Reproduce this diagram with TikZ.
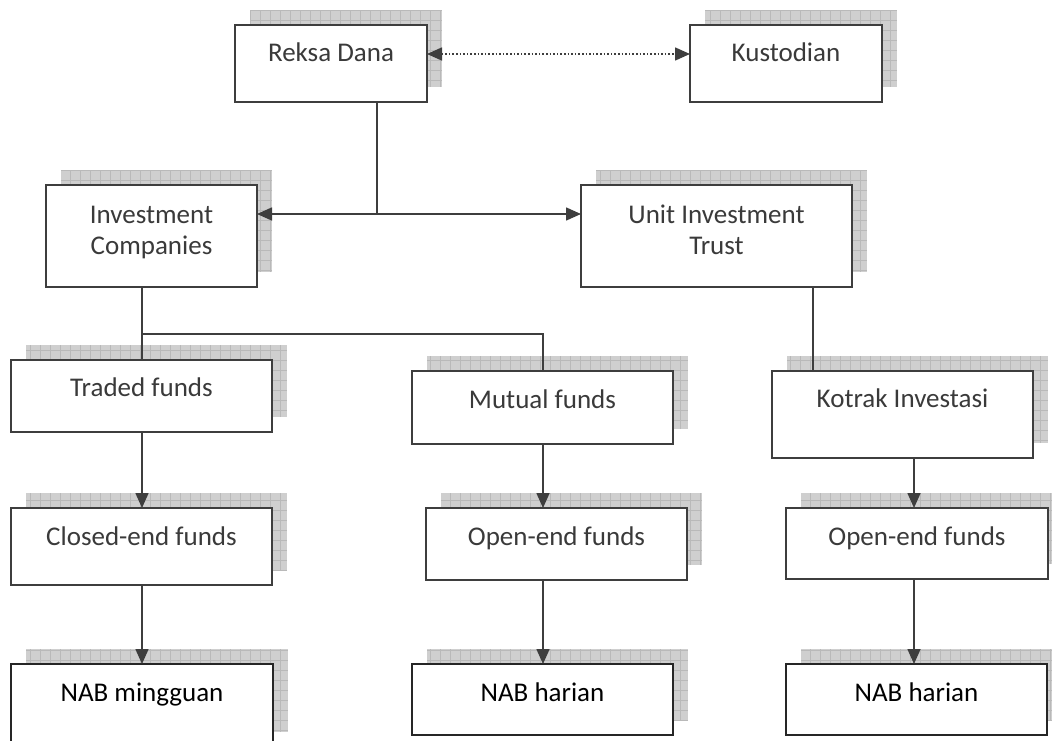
\documentclass[tikz,border=0pt]{standalone}
\usepackage{fontspec}
\setmainfont{Carlito}
\usetikzlibrary{arrows.meta,backgrounds}

\definecolor{inkgray}{HTML}{3A3A3A}
\definecolor{linegray}{HTML}{3E3E3E}
\definecolor{shadefill}{HTML}{CFCFCF}
\definecolor{shadegrid}{HTML}{B9B9B9}

\tikzset{
  fundbox/.style={rectangle, draw=linegray, line width=1.6pt, fill=white,
                  inner sep=0pt, outer sep=0pt},
  navbox/.style={fundbox, draw=black!85},
  boxtext/.style={font=\fontsize{27}{31}\selectfont, text=inkgray,
                  inner sep=0pt, anchor=base},
  navtext/.style={boxtext, text=black},
  link/.style={draw=linegray, line width=1.6pt},
  arrowlink/.style={link, -{Triangle[length=15pt,width=13pt]}},
  dotlink/.style={link, dotted,
    {Triangle[length=15pt,width=13pt]}-{Triangle[length=15pt,width=13pt]}},
}

% gridded drop shadow, offset up and to the right of a box node
\newcommand\gridshadow[1]{%
  \begin{scope}
    \clip ([shift={(15pt,15pt)}]#1.south west) rectangle ([shift={(15pt,15pt)}]#1.north east);
    \fill[shadefill] ([shift={(15pt,15pt)}]#1.south west) rectangle ([shift={(15pt,15pt)}]#1.north east);
    \draw[shadegrid, line width=0.6pt, step=10pt]
      ([shift={(15pt,15pt)}]#1.south west) grid ([shift={(15pt,15pt)}]#1.north east);
  \end{scope}}

\begin{document}
\begin{tikzpicture}[x=1pt, y=-1pt]
  \useasboundingbox (0,0) rectangle (1052,741);
  \clip (0,0) rectangle (1052,741);

  % boxes
  \node[fundbox, minimum width=192pt, minimum height=77pt]  (rd)  at (331,63.5)   {};
  \node[fundbox, minimum width=192pt, minimum height=77pt]  (ku)  at (786,63.5)   {};
  \node[fundbox, minimum width=211pt, minimum height=102pt] (ic)  at (151.5,236)  {};
  \node[fundbox, minimum width=271pt, minimum height=102pt] (uit) at (716.5,236)  {};
  \node[fundbox, minimum width=261pt, minimum height=72pt]  (tf)  at (141.5,396)  {};
  \node[fundbox, minimum width=261pt, minimum height=73pt]  (mf)  at (542.5,407.5){};
  \node[fundbox, minimum width=261pt, minimum height=87pt]  (ko)  at (902.5,414.5){};
  \node[fundbox, minimum width=261pt, minimum height=77pt]  (ce)  at (141.5,546.5){};
  \node[fundbox, minimum width=261pt, minimum height=72pt]  (oea) at (556.5,544)  {};
  \node[fundbox, minimum width=262pt, minimum height=71pt]  (oeb) at (917,543.5)  {};
  \node[navbox,  minimum width=262pt, minimum height=83pt]  (nm)  at (142,705.5)  {};
  \node[navbox,  minimum width=261pt, minimum height=71pt]  (nha) at (542.5,699.5){};
  \node[navbox,  minimum width=261pt, minimum height=71pt]  (nhb) at (916.5,699.5){};

  % labels
  \node[boxtext] (rdt)  at (331,62)    {Reksa Dana};
  \node[boxtext] (kut)  at (786,62)    {Kustodian};
  \node[boxtext] (ict1) at (151.5,223) {Investment};
  \node[boxtext] (ict2) at (151.5,254) {Companies};
  \node[boxtext] (uit1) at (716.5,223) {Unit Investment};
  \node[boxtext] (uit2) at (716.5,254) {Trust};
  \node[boxtext] (tft)  at (141.5,396) {Traded funds};
  \node[boxtext] (mft)  at (542.5,408) {Mutual funds};
  \node[boxtext] (kot)  at (902.5,407) {Kotrak Investasi};
  \node[boxtext] (cet)  at (141.5,545) {Closed-end funds};
  \node[boxtext] (oeat) at (556.5,545) {Open-end funds};
  \node[boxtext] (oebt) at (917,545)   {Open-end funds};
  \node[navtext] (nmt)  at (142,701)   {NAB mingguan};
  \node[navtext] (nhat) at (542.5,701) {NAB harian};
  \node[navtext] (nhbt) at (916.5,701) {NAB harian};

  % shadows behind the boxes
  \begin{scope}[on background layer]
    \foreach \b in {rd,ku,ic,uit,tf,mf,ko,ce,oea,oeb,nm,nha,nhb} {\gridshadow{\b}}
  \end{scope}

  % junction points and columns of the connectors
  \coordinate (split)   at (377,214);
  \coordinate (icfork)  at (142,334);
  \coordinate (uitdrop) at (813,300);
  \coordinate (lcol)    at (142,600);
  \coordinate (mcol)    at (543,600);
  \coordinate (rcol)    at (914,600);

  % connectors
  \draw[dotlink] ([yshift=9.5pt]rd.east) -- ([yshift=9.5pt]ku.west);
  \draw[link] (rd.south -| split) -- (split);
  \draw[arrowlink] (split) -- (ic.east |- split);
  \draw[arrowlink] (split) -- (uit.west |- split);
  \draw[link] (ic.south -| icfork) -- (icfork) -- (tf.north -| icfork);
  \draw[link] (icfork) -| (mf.north -| mcol);
  \draw[link] (uit.south -| uitdrop) -- (ko.north -| uitdrop);
  \draw[arrowlink] (tf.south -| lcol) -- (ce.north -| lcol);
  \draw[arrowlink] (mf.south -| mcol) -- (oea.north -| mcol);
  \draw[arrowlink] (ko.south -| rcol) -- (oeb.north -| rcol);
  \draw[arrowlink] (ce.south -| lcol) -- (nm.north -| lcol);
  \draw[arrowlink] (oea.south -| mcol) -- (nha.north -| mcol);
  \draw[arrowlink] (oeb.south -| rcol) -- (nhb.north -| rcol);
\end{tikzpicture}
\end{document}
